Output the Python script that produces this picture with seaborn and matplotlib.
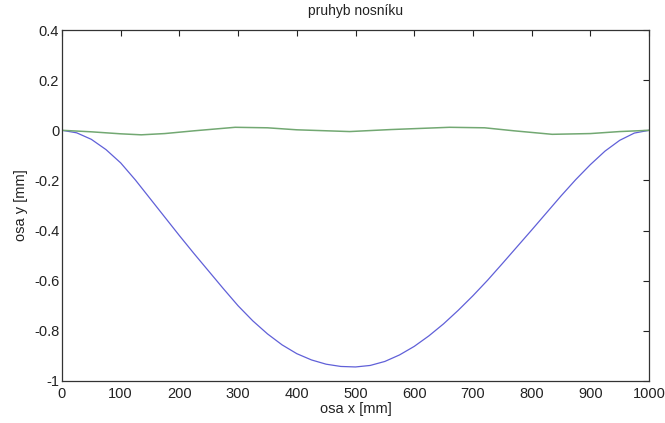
import matplotlib
matplotlib.use("Agg")
import matplotlib.pyplot as plt
import seaborn as sns
import pandas as pd

# ---- data ----
blue_x = [0, 25, 50, 75, 100, 125, 150, 175, 200, 225, 250, 275, 300, 325, 350, 375,
          400, 425, 450, 475, 500, 525, 550, 575, 600, 625, 650, 675, 700, 725, 750,
          775, 800, 825, 850, 875, 900, 925, 950, 975, 1000]
blue_y = [0.0, -0.010, -0.036, -0.077, -0.130, -0.198, -0.272, -0.346, -0.420, -0.492,
          -0.562, -0.632, -0.700, -0.760, -0.812, -0.856, -0.891, -0.916, -0.933, -0.942,
          -0.944, -0.938, -0.922, -0.896, -0.862, -0.820, -0.772, -0.718, -0.660, -0.598,
          -0.532, -0.465, -0.398, -0.330, -0.262, -0.197, -0.137, -0.083, -0.040, -0.011, 0.0]
green_x = [0, 50, 100, 135, 175, 225, 295, 350, 400, 490, 560, 660, 720, 770, 835, 900, 950, 1000]
green_y = [0.0, -0.006, -0.014, -0.018, -0.013, -0.002, 0.012, 0.010, 0.002, -0.005,
           0.003, 0.012, 0.010, -0.002, -0.016, -0.013, -0.005, 0.0]

x_ticks = [0, 100, 200, 300, 400, 500, 600, 700, 800, 900, 1000]
y_ticks = [-1, -0.8, -0.6, -0.4, -0.2, 0, 0.2, 0.4]
y_tick_labels = ["-1", "-0.8", "-0.6", "-0.4", "-0.2", "0", "0.2", "0.4"]
title = "pruhyb nosníku"
x_label = "osa x [mm]"
y_label = "osa y [mm]"

# ---- style ----
sns.set_style("white")
plt.rcParams["font.family"] = ["Liberation Sans", "DejaVu Sans"]
plt.rcParams["font.size"] = 10

fig = plt.figure(figsize=(6.65, 4.23), dpi=100)
ax = fig.add_axes([0.0932, 0.0993, 0.8828, 0.8297])

df_b = pd.DataFrame({"x": blue_x, "y": blue_y})
df_g = pd.DataFrame({"x": green_x, "y": green_y})
sns.lineplot(data=df_b, x="x", y="y", ax=ax, color="#6060d8", linewidth=0.9)
sns.lineplot(data=df_g, x="x", y="y", ax=ax, color="#72a872", linewidth=1.1)

ax.set_xlim(0, 1000)
ax.set_ylim(-1, 0.4)
ax.set_xticks(x_ticks)
ax.set_xticklabels([str(t) for t in x_ticks])
ax.set_yticks(y_ticks)
ax.set_yticklabels(y_tick_labels)
ax.tick_params(direction="in", length=4, width=0.8, colors="#222222",
               top=True, right=True, labelsize=10.5, labelcolor="#222222", pad=2)
ax.tick_params(axis="x", pad=4)
for s in ax.spines.values():
    s.set_color("#333333")
    s.set_linewidth(0.9)

ax.set_title(title, fontsize=10, color="#222222", pad=11)
ax.set_xlabel(x_label, fontsize=10.5, color="#222222", labelpad=1)
ax.set_ylabel(y_label, fontsize=10.5, color="#222222", labelpad=4)

fig.savefig("out.png", dpi=100)
